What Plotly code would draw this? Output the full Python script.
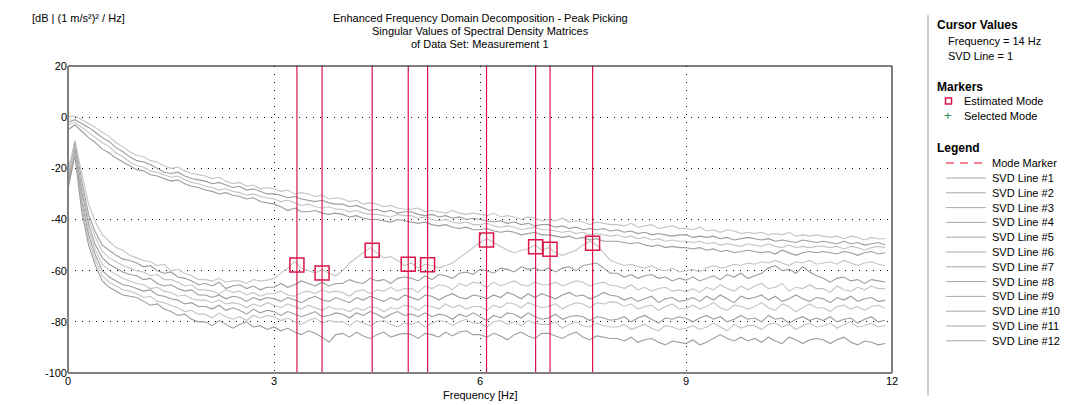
import plotly.graph_objects as go

# ---------------- data ----------------
FREQ_STEP_HZ = 0.1
N_POINTS = 120
FREQ = [round(i * FREQ_STEP_HZ, 1) for i in range(N_POINTS)]

SVD_1 = [0, 0.5, -1, -2.5, -4, -6, -7.5, -10, -11.5, -13.5,
         -15, -15.5, -17, -17.5, -19, -20, -19.5, -21, -22, -22.5,
         -23, -24, -23.5, -25, -26, -25.5, -27, -26.5, -28, -27.5,
         -28, -29, -28.5, -30, -29.5, -30, -31, -30.5, -32, -31.5,
         -32, -33, -32.5, -34, -33.5, -34, -35, -34.5, -35.5, -36,
         -36, -35.5, -37, -36.5, -37, -37.5, -36.5, -37.5, -38, -37.5,
         -38, -38.5, -37.5, -39, -38.5, -39, -40, -39, -39.5, -40.5,
         -40, -40.5, -39.5, -41, -40.5, -41, -42, -41, -41.5, -42,
         -42, -42.5, -41.5, -43, -42.5, -42, -43.5, -43, -42.5, -43.5,
         -43.5, -44, -43, -44.5, -44, -45, -44, -44.5, -45.5, -45,
         -45.5, -45, -46, -45.5, -46, -45, -46.5, -46, -46.5, -46,
         -46.5, -47, -46.5, -47.5, -46.5, -47, -48, -47, -47.5, -47.5]

SVD_2 = [-2, -1, -2.5, -4, -6, -8, -9.5, -12, -13.5, -15.5,
         -17, -17.5, -18.5, -20, -21.5, -22, -21.5, -23, -24, -24.5,
         -25, -26, -25.5, -26.5, -27.5, -27, -28.5, -28, -29, -30,
         -30, -30.5, -31.5, -31, -32, -32.5, -33, -32.5, -33.5, -34,
         -34, -35, -34.5, -35.5, -36.5, -36, -37, -36.5, -37.5, -37,
         -37, -38, -38.5, -38, -39, -38.5, -39.5, -39, -40, -39.5,
         -40, -40.5, -41, -40.5, -41.5, -41, -42, -41.5, -42.5, -42,
         -42, -43, -42.5, -43.5, -43, -44, -43.5, -44, -43.5, -44.5,
         -44, -45, -44.5, -45.5, -45, -46, -45.5, -46, -46.5, -46,
         -46, -47, -46.5, -47, -46.5, -47.5, -47, -48, -47.5, -47,
         -47.5, -48, -47.5, -48.5, -48, -48.5, -49, -48, -48.5, -49,
         -48.5, -49, -49.5, -48.5, -49.5, -49, -50, -49.5, -49, -50]

SVD_3 = [-3, -2, -4, -6, -8, -10, -11.5, -14, -15.5, -17.5,
         -19, -19.5, -21, -21.5, -22.5, -23.5, -23, -24.5, -25.5, -26,
         -27, -27.5, -28.5, -28, -29, -29.5, -30.5, -30, -31, -31.5,
         -32, -33, -32.5, -33.5, -34.5, -34, -35, -35.5, -35, -36,
         -36, -37, -36.5, -37.5, -38, -38, -38.5, -39, -38, -38.5,
         -38.5, -39.5, -39, -40, -40.5, -40, -41, -41.5, -41, -42,
         -42, -41.5, -42.5, -43, -42.5, -43, -44, -43.5, -43, -44,
         -44, -44.5, -45, -44.5, -45.5, -45, -46, -45.5, -46, -46.5,
         -46, -47, -46.5, -47.5, -47, -48, -47.5, -48.5, -48, -48.5,
         -48.5, -49, -48.5, -49.5, -49, -50, -49.5, -50, -50.5, -49.5,
         -50, -50.5, -49.5, -50.5, -51, -50, -51, -50.5, -51, -50.5,
         -50.5, -51, -50.5, -51.5, -50.5, -51, -52, -51, -50.5, -51]

SVD_4 = [-5, -3, -5.5, -8, -10, -12.5, -14, -16, -17.5, -19,
         -20.5, -21, -22.5, -23, -24, -25, -24.5, -26, -27, -27.5,
         -28.5, -29, -30, -29.5, -30.5, -31, -32, -31.5, -33, -33.5,
         -34, -35, -36.5, -35.5, -37, -37, -36.5, -37.5, -38, -37.5,
         -38, -39, -38.5, -39.5, -40, -40, -40.5, -41, -40, -40.5,
         -41, -41.5, -41, -42, -42.5, -42, -43, -43.5, -43, -44,
         -44, -43.5, -44.5, -45, -44.5, -45, -46, -45.5, -45, -46,
         -46, -46.5, -47, -46.5, -47.5, -47, -48, -47.5, -48.5, -48.5,
         -48.5, -49, -49.5, -49, -50, -50.5, -50, -51, -50.5, -51,
         -51, -51.5, -51, -52, -51.5, -52.5, -52, -53, -52.5, -52,
         -52.5, -53, -52.5, -53.5, -52, -53, -54, -53, -52.5, -53,
         -52.5, -53, -53.5, -52.5, -53, -54, -53, -52.5, -53.5, -53]

SVD_5 = [-22, -9, -22, -34, -41, -46, -48.5, -51, -52, -54,
         -55, -56, -56.5, -58, -57.5, -60, -59.5, -61, -62, -63.5,
         -63.5, -64, -63, -64.5, -64, -64, -65, -63.5, -64, -63.7,
         -63, -61, -59, -56.5, -59, -60, -61, -59.5, -61, -62,
         -60, -57, -55, -53, -51, -53, -55, -54.5, -56, -58,
         -57, -59, -57.5, -58, -59, -58, -57, -55, -53, -51,
         -49, -47.5, -49, -50.5, -52, -53, -52, -51.5, -50, -52,
         -51, -53, -54, -53, -52, -50, -48.5, -50, -53, -56,
         -57, -58, -57.5, -58.5, -59, -58, -59.5, -60, -59, -60.5,
         -60, -59.5, -60.5, -59, -58, -59, -58.5, -57.5, -58, -57,
         -57.5, -56.5, -57, -56, -57, -58, -56.5, -57, -56, -57.5,
         -57, -56.5, -57.5, -56, -57, -58, -57, -56.5, -57.5, -58]

SVD_6 = [-24, -10, -25, -38, -45, -50, -52, -54, -55.5, -56,
         -57, -58.5, -58, -60, -61, -60.5, -62.5, -63, -64, -65.5,
         -65, -66, -64.5, -67, -66, -65.5, -67, -66, -67.5, -66.5,
         -66.5, -65, -66.5, -65.5, -64, -65, -66, -64.5, -66, -65,
         -65, -63.5, -64.5, -65, -63, -64, -63.5, -65, -63, -62.5,
         -63, -64, -62, -63.5, -61.5, -62, -63, -61, -60.5, -61.5,
         -59.5, -60, -61, -59, -59.5, -60.5, -58.5, -59.5, -59, -60,
         -59, -60.5, -59, -58.5, -60, -58, -57.5, -57, -59, -61,
         -61, -62.5, -61.5, -63, -62, -61.5, -63, -62.5, -64, -63,
         -63.7, -62.5, -64, -63, -62, -63.5, -61.5, -62.5, -61, -63,
         -62, -61, -59, -58, -60, -59.5, -61, -58.5, -60.5, -62,
         -63, -64.5, -63, -62.5, -64, -63.5, -65, -63.5, -64, -64.4]

SVD_7 = [-20, -11, -27, -40, -47, -52.5, -55, -56.5, -58, -59,
         -60, -60.5, -62, -61.5, -63.5, -63.5, -64.5, -66, -65.5, -67.5,
         -67.5, -68, -69, -67.5, -68.5, -68, -69.5, -68.5, -70, -69,
         -69, -68, -69.5, -70, -68.5, -68, -69, -67.5, -68.5, -68,
         -68.5, -70, -68, -67.5, -69, -67.5, -68, -66.5, -68, -67,
         -67, -68.5, -66, -67, -65.5, -66, -67.5, -65, -66, -64.5,
         -65, -66.5, -64.5, -66, -65, -64, -65.5, -66, -64.5, -65.5,
         -65.5, -64.5, -66, -65, -64, -64.5, -66, -65, -64.5, -65.7,
         -66, -67, -65.5, -67.5, -66.5, -68, -67, -66.5, -68, -67.5,
         -68.3, -67, -68.5, -66.5, -67.5, -65.5, -67, -68, -66, -67.5,
         -66, -65, -67, -66.5, -65, -68, -66.5, -67, -65.5, -67,
         -67, -68.5, -66, -67.5, -68, -66.5, -67.5, -66, -67, -67]

SVD_8 = [-26, -12, -29, -42, -50, -55, -57.5, -59, -60.5, -61.5,
         -62, -63.5, -63, -65, -66, -65.5, -67, -68, -67.5, -69.5,
         -69.5, -70.5, -69.5, -71, -70, -70.5, -72, -70.5, -71.5, -70.5,
         -71, -72, -70.5, -71.5, -72.5, -71, -70, -71.5, -72, -70.5,
         -71.5, -72.5, -70.5, -71.5, -70, -71, -72, -70.5, -71.5, -69.5,
         -70.5, -71.5, -69.5, -70, -71.5, -70, -69, -70.5, -71, -69.5,
         -70, -71, -69.5, -70.5, -68.5, -69.5, -71, -69, -70.5, -69,
         -70, -71, -69.5, -68.5, -70, -69.5, -71, -70, -68.5, -69.6,
         -70, -71.5, -70.5, -72, -71, -70, -72.5, -71, -70.5, -72,
         -71.6, -70.5, -72, -70, -71.5, -69.5, -71, -72.5, -70, -71,
         -70.5, -69.5, -71.5, -70, -72, -71, -69.5, -71, -72, -70.5,
         -71, -72.5, -70.5, -71.5, -70, -72, -71, -70.5, -72, -71.6]

SVD_9 = [-21, -12.5, -31, -44, -52, -57.5, -60, -61.5, -63, -64,
         -65, -65.5, -67, -66.5, -68, -68.5, -70, -69.5, -71, -71.5,
         -71.5, -72.5, -71.5, -73, -72.5, -73, -74.5, -73, -74, -72.5,
         -73.5, -74.5, -73, -74, -75, -73.5, -74.5, -75.5, -74, -75,
         -75, -76, -74.5, -75.5, -74, -74.5, -76, -74.5, -75, -73.5,
         -74, -75.5, -73.5, -74, -75, -73, -74.5, -73.5, -75, -74,
         -74, -75.5, -73.5, -74.5, -72.5, -73, -74.5, -72.5, -73.5, -74.5,
         -74, -73, -75, -73.5, -72.5, -73, -74.5, -72.5, -73, -72.2,
         -72.5, -74, -73, -75, -74, -73.5, -75.5, -74, -73, -75,
         -74.8, -73.5, -75, -74, -72.5, -74.5, -75.5, -73.5, -74, -75,
         -74, -72.5, -74.5, -75.5, -73, -74, -76, -74.5, -73, -74.5,
         -74.5, -76, -74, -73.5, -75, -74, -75.5, -74, -73.5, -74.8]

SVD_10 = [-27, -13, -33, -46, -54, -60, -62.5, -64, -65.5, -66,
          -67, -68, -67.5, -69.5, -70, -71, -71.5, -73, -72.5, -74,
          -74, -75, -73.5, -75.5, -74.5, -75.5, -77, -75, -76.5, -75.5,
          -76, -77.5, -76, -77, -78, -77, -76, -78, -77.5, -76.5,
          -77, -78.5, -76.5, -77.5, -76, -77, -78.5, -77, -76, -77.5,
          -77, -78, -76.5, -78, -77, -77.5, -79, -77, -78, -76.5,
          -78, -79.5, -77.5, -78.5, -76.5, -77, -78.5, -76.5, -78, -79,
          -78.5, -77, -79, -78, -77.5, -78, -79.5, -78, -78.5, -79.4,
          -79, -78, -80, -78.5, -77.5, -79, -80.5, -78.5, -79, -78,
          -78.6, -80, -78.5, -77.5, -79, -78, -80, -79, -77.5, -79,
          -78.5, -80, -77.5, -79, -78.5, -80.5, -79, -78, -79.5, -78.5,
          -79.5, -78, -80, -79, -78.5, -80.5, -79, -78, -80, -79.4]

SVD_11 = [-23, -14, -35, -48, -56, -62, -64.5, -66, -67.5, -68,
          -69, -70.5, -70, -72, -72.5, -73.5, -74.5, -76, -75.5, -77,
          -77, -78.5, -76.5, -78, -79, -78, -79.5, -77.5, -78.5, -77.5,
          -78, -79.5, -78.5, -80, -81, -79.5, -78.5, -80.5, -79.5, -80,
          -80, -81.5, -79.5, -80.5, -81.5, -80, -79.5, -81, -82, -80.5,
          -81, -80, -82, -80.5, -79.5, -80, -81.5, -80, -79, -80.5,
          -80.5, -82, -80, -79.5, -81, -80, -81.5, -79.5, -80.5, -81,
          -81, -80, -82.5, -81, -80, -81.5, -82, -80.5, -81.5, -82,
          -82, -81, -83, -82, -81, -82.5, -83.5, -81.5, -82, -83,
          -82.5, -81.5, -83, -82, -80.5, -82, -83.5, -81, -82.5, -81.5,
          -81.5, -83, -81, -80.5, -82, -81, -83, -81.5, -80.5, -82,
          -81.5, -80.5, -82.5, -81, -80, -82, -81.5, -80.5, -82, -81.4]

SVD_12 = [-28, -15, -37, -50, -58, -64, -66.5, -68, -69.5, -70,
          -70.5, -72, -73.5, -73, -75, -76, -77.5, -77, -79, -80,
          -80, -81.5, -79.5, -81, -82.5, -81, -80, -82, -81.5, -83,
          -82, -83.5, -82.5, -84, -85, -83.5, -84.5, -86, -88, -85,
          -84.5, -86, -84, -85.5, -86.5, -85, -84, -86, -85, -84.5,
          -85, -86.5, -84.5, -85, -86, -84, -85.5, -84, -83.5, -85,
          -85, -86, -84.5, -85.5, -87, -85, -84, -85.5, -86.5, -84.5,
          -84.5, -85.5, -86.5, -85, -84, -86, -87, -85.5, -86, -86.5,
          -86.5, -87.5, -86, -88, -87, -86.5, -88, -89, -87.5, -88,
          -88.5, -87, -89, -88, -86.5, -85, -86.5, -87.5, -86, -87.5,
          -86.5, -88, -86, -87.5, -88.5, -86, -87, -88.5, -87, -86.5,
          -87, -88.5, -87, -86, -88, -89, -87.5, -88, -89, -88.5]

SVD_LINES = [SVD_1, SVD_2, SVD_3, SVD_4, SVD_5, SVD_6,
             SVD_7, SVD_8, SVD_9, SVD_10, SVD_11, SVD_12]
SVD_NAMES = ["SVD Line #%d" % (i + 1) for i in range(12)]

MODE_FREQ = [3.334, 3.70, 4.43, 4.955, 5.237, 6.095, 6.81, 7.02, 7.64]
MODE_DB = [-57.8, -60.9, -52.0, -57.5, -57.7, -48.0, -50.7, -51.6, -49.3]

X_TICKS = [0, 3, 6, 9, 12]
Y_TICKS = [-100, -80, -60, -40, -20, 0, 20]
X_RANGE = [0, 12]
Y_RANGE = [-100, 20]

TITLE_LINES = ["Enhanced Frequency Domain Decomposition - Peak Picking",
               "Singular Values of Spectral Density Matrices",
               "of Data Set: Measurement 1"]
Y_UNIT = "[dB | (1 m/s\u00b2)\u00b2 / Hz]"
X_TITLE = "Frequency [Hz]"
CURSOR_TEXT = ["Frequency = 14 Hz", "SVD Line = 1"]

# ---------------- styling / geometry ----------------
FIG_W, FIG_H = 1071, 405
L, T, W, H = 68, 66, 824, 307
FONT = "Liberation Sans, Arial, sans-serif"
RED = "#dc1448"
LIGHT = "#c4c4c4"
DARK = "#9c9c9c"
line_colors = [LIGHT, DARK, LIGHT, DARK, LIGHT, DARK,
               LIGHT, DARK, LIGHT, DARK, LIGHT, DARK]


def px(xp):
    return (xp - L) / W


def py(yp):
    return (T + H - yp) / H


fig = go.Figure()

for name, vals, col in zip(SVD_NAMES, SVD_LINES, line_colors):
    fig.add_trace(go.Scatter(x=FREQ, y=vals, mode="lines", name=name,
                             line=dict(color=col, width=1.1),
                             hoverinfo="skip"))

for f in MODE_FREQ:
    fig.add_trace(go.Scatter(x=[f, f], y=Y_RANGE, mode="lines",
                             line=dict(color=RED, width=1.2),
                             hoverinfo="skip"))

fig.add_trace(go.Scatter(x=MODE_FREQ, y=MODE_DB, mode="markers",
                         marker=dict(symbol="square-open", size=14,
                                     color=RED, line=dict(color=RED, width=1.5)),
                         hoverinfo="skip"))

shapes = []
annotations = []

# plot frame
shapes.append(dict(type="rect", xref="paper", yref="paper", x0=0, x1=1, y0=0, y1=1,
                   line=dict(color="black", width=1)))
shapes.append(dict(type="line", xref="paper", yref="paper", x0=0, x1=0, y0=0, y1=1,
                   line=dict(color="#808080", width=2)))
shapes.append(dict(type="line", xref="paper", yref="paper", x0=0, x1=1, y0=0, y1=0,
                   line=dict(color="#808080", width=2)))

# separator of right panel
shapes.append(dict(type="line", xref="paper", yref="paper", x0=px(928), x1=px(928),
                   y0=py(396), y1=py(15), line=dict(color="#a0a0a0", width=1)))


def text(xp, yp, s, size=11, anchor="left", bold=False, color="black"):
    annotations.append(dict(xref="paper", yref="paper", x=px(xp), y=py(yp),
                            text=("<b>%s</b>" % s) if bold else s,
                            showarrow=False, xanchor=anchor, yanchor="middle",
                            font=dict(family=FONT, size=size, color=color)))


# titles
for i, s in enumerate(TITLE_LINES):
    text(480, 18 + 13 * i, s, anchor="center")
text(30, 18, Y_UNIT)
text(480, 395, X_TITLE, anchor="center")

# right panel
text(935, 25, "Cursor Values", size=12, bold=True)
text(946, 41, CURSOR_TEXT[0])
text(946, 56, CURSOR_TEXT[1])
text(935, 87, "Markers", size=12, bold=True)
shapes.append(dict(type="rect", xref="paper", yref="paper", x0=px(945.5), x1=px(951.5),
                   y0=py(104), y1=py(98), line=dict(color=RED, width=1.5)))
text(962, 101, "Estimated Mode")
text(948, 116, "+", size=13, anchor="center", color="#2e8b57")
text(962, 116, "Selected Mode")
text(935, 148, "Legend", size=12, bold=True)

shapes.append(dict(type="line", xref="paper", yref="paper", x0=px(946), x1=px(986),
                   y0=py(163), y1=py(163),
                   line=dict(color="#f05a6a", width=1.5, dash="8px,6px")))
text(990, 163, "Mode Marker")
for i, name in enumerate(SVD_NAMES):
    yy = 178 + 14.8 * i
    shapes.append(dict(type="line", xref="paper", yref="paper", x0=px(946), x1=px(986),
                       y0=py(yy), y1=py(yy), line=dict(color="#a8a8a8", width=1)))
    text(990, yy, name)

fig.update_layout(
    width=FIG_W, height=FIG_H,
    margin=dict(l=L, r=FIG_W - L - W, t=T, b=FIG_H - T - H, pad=0),
    paper_bgcolor="white", plot_bgcolor="white",
    showlegend=False,
    font=dict(family=FONT, size=11, color="black"),
    shapes=shapes, annotations=annotations,
    xaxis=dict(range=X_RANGE, tickvals=X_TICKS, ticktext=[str(v) for v in X_TICKS],
               showgrid=True, gridcolor="black", gridwidth=1, griddash="1px,7px",
               zeroline=False, showline=False, ticks="", fixedrange=True,
               tickfont=dict(family=FONT, size=11, color="black")),
    yaxis=dict(range=Y_RANGE, tickvals=Y_TICKS, ticktext=[str(v) for v in Y_TICKS],
               showgrid=True, gridcolor="black", gridwidth=1, griddash="1px,6px",
               zeroline=False, showline=False, ticks="", fixedrange=True,
               tickfont=dict(family=FONT, size=11, color="black")),
)

fig.write_html("out.html", config={"displayModeBar": False},
               post_script="document.body.style.margin='0px';"
                           "document.body.style.overflow='hidden';")
